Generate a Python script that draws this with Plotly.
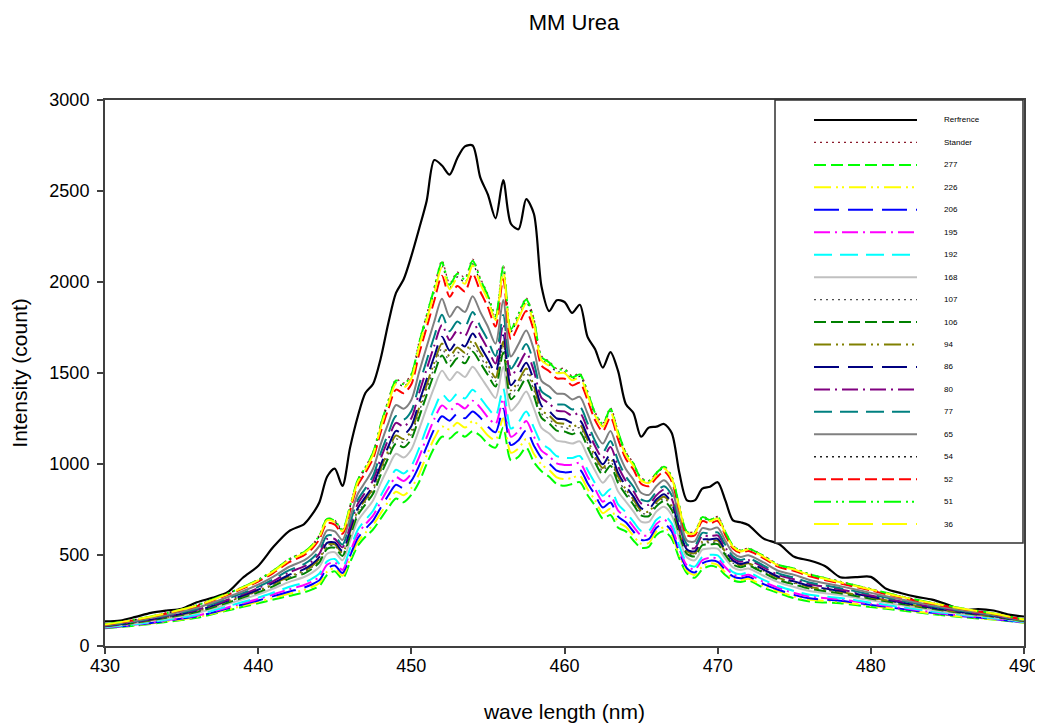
import plotly.graph_objects as go

# wavelength grid for the black reference curve
WAVE_REF = [430, 431, 432, 433, 434, 435, 436, 437, 438, 439, 440, 441, 442,
            443, 443.5, 444, 444.5, 445, 445.5, 446, 446.5, 447, 447.5,
            448, 448.5, 449, 449.5, 450, 450.5, 451, 451.5, 452, 452.5,
            453, 453.5, 454, 454.5, 455, 455.5, 456, 456.5, 457, 457.5,
            458, 458.5, 459, 459.5, 460, 460.5, 461, 461.5, 462, 462.5,
            463, 463.5, 464, 464.5, 465, 465.5, 466, 466.5, 467, 467.5,
            468, 468.5, 469, 469.5, 470, 470.5, 471, 471.5, 472,
            473, 474, 475, 476, 477, 478, 479, 480, 481, 482, 483, 484, 485, 486, 487, 488, 489, 490]
REFERENCE = [135, 140, 160, 182, 195, 205, 240, 265, 295, 375, 440, 545, 630,
             670, 720, 790, 930, 975, 880, 1090, 1260, 1390, 1440,
             1580, 1775, 1940, 2015, 2142, 2290, 2445, 2670, 2640, 2590,
             2680, 2745, 2750, 2575, 2480, 2350, 2560, 2320, 2290, 2455,
             2375, 1975, 1840, 1900, 1890, 1830, 1875, 1700, 1630, 1530,
             1615, 1510, 1330, 1280, 1150, 1200, 1205, 1220, 1170, 950,
             800, 800, 865, 875, 900, 800, 690, 680, 665,
             590, 560, 490, 470, 440, 378, 378, 380, 315, 290, 270, 255, 228, 198, 203, 195, 172, 162]

# wavelength grid for the sample curves
WAVE = [430, 432, 434, 436, 438, 440, 441, 442,
        443, 443.5, 444, 444.5, 445, 445.5, 446, 446.5, 447, 447.5,
        448, 448.5, 449, 449.5, 450, 450.5, 451, 451.5, 452, 452.5,
        453, 453.5, 454, 454.5, 455, 455.5, 456, 456.5, 457, 457.5,
        458, 458.5, 459, 459.5, 460, 460.5, 461, 461.5, 462, 462.5,
        463, 463.5, 464, 464.5, 465, 465.5, 466, 466.5, 467, 467.5,
        468, 468.5, 469, 469.5, 470, 470.5, 471, 471.5, 472,
        473, 474, 475, 476, 478, 480, 482, 484, 486, 488, 490]

STANDER = [119, 146, 182, 225, 289, 365, 416, 478, 519, 554, 611, 702, 691, 640, 772, 914, 985, 1066, 1220, 1353,
           1465, 1445, 1496, 1670, 1822, 1974, 2117, 1993, 2054, 2024, 2126, 2023, 1932, 1818, 2094, 1748, 1830, 1912, 1800, 1594,
           1564, 1524, 1525, 1483, 1498, 1402, 1285, 1225, 1308, 1180, 1067, 1006, 925, 909, 953, 989, 933, 771, 629, 630,
           711, 695, 711, 629, 552, 527, 537, 497, 446, 426, 396, 355, 314, 273, 237, 207, 179, 146]
S277 = [98, 112, 132, 155, 195, 235, 255, 275, 295, 310, 330, 390, 410, 370, 460, 550, 600, 640, 700, 760,
        810, 790, 830, 900, 1000, 1090, 1150, 1140, 1175, 1150, 1180, 1155, 1110, 1090, 1200, 1020, 1040, 1090, 1010, 960,
        930, 890, 880, 890, 900, 830, 770, 700, 720, 650, 630, 580, 540, 545, 610, 630, 590, 480, 400, 375,
        420, 440, 430, 390, 360, 352, 360, 320, 290, 262, 245, 235, 214, 195, 175, 158, 145, 128]
S226 = [99, 114, 135, 159, 200, 243, 264, 287, 308, 324, 346, 408, 426, 386, 478, 571, 622, 665, 730, 794,
        848, 828, 868, 944, 1047, 1141, 1206, 1189, 1226, 1200, 1235, 1205, 1157, 1132, 1252, 1062, 1086, 1137, 1056, 997,
        967, 927, 917, 924, 935, 863, 800, 730, 754, 681, 655, 605, 562, 566, 630, 651, 610, 497, 413, 390,
        437, 455, 446, 404, 371, 362, 370, 330, 299, 271, 254, 242, 220, 200, 179, 161, 147, 129]
S206 = [100, 116, 138, 163, 206, 250, 274, 298, 321, 338, 362, 426, 442, 401, 496, 592, 644, 689, 760, 828,
        886, 866, 907, 989, 1095, 1192, 1262, 1238, 1276, 1251, 1289, 1255, 1205, 1174, 1303, 1104, 1131, 1185, 1101, 1033,
        1003, 963, 954, 958, 969, 896, 829, 761, 788, 711, 680, 629, 584, 587, 650, 671, 630, 514, 426, 404,
        454, 469, 462, 418, 382, 372, 380, 340, 308, 281, 262, 249, 226, 204, 182, 164, 149, 130]
S195 = [102, 118, 141, 167, 212, 258, 284, 311, 335, 354, 380, 446, 460, 418, 516, 615, 669, 716, 793, 866,
        927, 907, 948, 1037, 1146, 1247, 1322, 1292, 1331, 1305, 1348, 1310, 1256, 1220, 1359, 1150, 1181, 1236, 1151, 1073,
        1043, 1003, 995, 996, 1006, 932, 862, 793, 825, 744, 708, 656, 609, 610, 671, 694, 651, 532, 441, 420,
        472, 485, 480, 433, 394, 383, 392, 352, 318, 291, 272, 256, 232, 209, 186, 167, 151, 131]
S192 = [103, 120, 144, 172, 218, 266, 294, 324, 349, 369, 398, 465, 478, 435, 535, 638, 693, 743, 825, 903,
        968, 948, 990, 1085, 1198, 1303, 1383, 1345, 1386, 1360, 1408, 1364, 1308, 1265, 1415, 1195, 1230, 1288, 1200, 1113,
        1083, 1043, 1035, 1033, 1044, 968, 894, 826, 861, 778, 735, 683, 633, 633, 693, 716, 673, 550, 455, 436,
        490, 501, 498, 448, 406, 394, 403, 363, 328, 302, 281, 264, 238, 214, 190, 170, 153, 132]
S168 = [106, 125, 151, 181, 230, 284, 316, 351, 379, 402, 435, 507, 515, 471, 577, 687, 744, 800, 895, 982,
        1056, 1036, 1080, 1189, 1308, 1422, 1513, 1460, 1505, 1478, 1535, 1481, 1418, 1363, 1535, 1293, 1336, 1398, 1306, 1198,
        1168, 1128, 1122, 1112, 1124, 1045, 963, 897, 940, 849, 794, 740, 684, 682, 739, 765, 719, 589, 486, 471,
        529, 536, 535, 480, 432, 418, 426, 386, 349, 324, 302, 280, 251, 224, 198, 176, 158, 135]
S107 = [108, 129, 157, 190, 242, 300, 336, 376, 407, 432, 470, 546, 550, 505, 616, 732, 792, 853, 960, 1056,
        1138, 1118, 1163, 1285, 1411, 1532, 1634, 1566, 1614, 1587, 1653, 1589, 1521, 1454, 1647, 1384, 1435, 1501, 1405, 1277,
        1247, 1207, 1202, 1186, 1199, 1116, 1027, 963, 1014, 915, 848, 793, 732, 727, 782, 809, 762, 626, 514, 502,
        566, 567, 570, 510, 456, 439, 448, 408, 368, 344, 320, 295, 264, 234, 206, 182, 162, 137]
S106 = [108, 128, 155, 187, 238, 295, 329, 369, 398, 423, 460, 534, 540, 495, 604, 718, 778, 837, 940, 1034,
        1112, 1092, 1137, 1255, 1379, 1498, 1596, 1534, 1581, 1553, 1617, 1556, 1489, 1426, 1613, 1356, 1405, 1469, 1375, 1253,
        1223, 1183, 1178, 1164, 1176, 1094, 1008, 942, 991, 895, 832, 777, 718, 713, 768, 796, 748, 614, 506, 493,
        554, 558, 560, 500, 449, 433, 442, 402, 362, 338, 315, 290, 260, 231, 204, 181, 161, 136]
S94 = [109, 130, 158, 192, 245, 304, 340, 382, 413, 439, 479, 555, 559, 513, 625, 743, 804, 866, 975, 1074,
       1157, 1137, 1182, 1307, 1435, 1558, 1662, 1591, 1640, 1612, 1681, 1614, 1545, 1475, 1673, 1405, 1458, 1525, 1428, 1296,
       1266, 1226, 1221, 1204, 1216, 1133, 1042, 978, 1031, 931, 861, 806, 744, 738, 792, 820, 772, 634, 521, 510,
       574, 575, 579, 517, 462, 444, 454, 414, 373, 349, 325, 298, 267, 236, 208, 184, 163, 137]
S86 = [110, 132, 160, 195, 248, 309, 347, 390, 422, 449, 489, 567, 569, 523, 637, 757, 818, 882, 995, 1096,
       1182, 1162, 1208, 1337, 1466, 1592, 1699, 1624, 1674, 1646, 1717, 1648, 1576, 1503, 1707, 1433, 1488, 1556, 1458, 1320,
       1290, 1250, 1246, 1226, 1239, 1155, 1062, 998, 1053, 951, 878, 822, 758, 752, 805, 834, 785, 645, 530, 520,
       585, 585, 589, 526, 469, 451, 460, 420, 379, 355, 331, 303, 271, 239, 210, 186, 165, 138]
S80 = [111, 134, 164, 199, 254, 318, 357, 404, 437, 465, 508, 588, 588, 542, 658, 781, 844, 911, 1030, 1136,
       1226, 1206, 1252, 1388, 1521, 1651, 1764, 1681, 1733, 1704, 1781, 1706, 1631, 1552, 1768, 1482, 1542, 1611, 1512, 1363,
       1333, 1293, 1289, 1266, 1280, 1193, 1097, 1033, 1093, 987, 907, 851, 784, 776, 828, 858, 808, 665, 545, 537,
       605, 602, 608, 542, 482, 463, 472, 432, 389, 366, 341, 311, 277, 245, 215, 189, 167, 139]
S77 = [112, 136, 167, 203, 260, 325, 367, 415, 450, 479, 524, 606, 604, 557, 676, 802, 866, 935, 1060, 1170,
       1264, 1244, 1291, 1433, 1569, 1702, 1820, 1730, 1783, 1755, 1835, 1756, 1679, 1594, 1819, 1524, 1587, 1659, 1557, 1399,
       1369, 1329, 1326, 1300, 1314, 1226, 1126, 1064, 1127, 1017, 932, 875, 806, 797, 848, 878, 828, 682, 558, 551,
       622, 616, 624, 556, 493, 473, 482, 442, 398, 376, 349, 318, 283, 249, 218, 192, 169, 140]
S65 = [114, 139, 171, 210, 268, 337, 381, 434, 470, 502, 550, 635, 630, 582, 705, 835, 902, 974, 1108, 1225,
       1324, 1304, 1352, 1503, 1644, 1783, 1908, 1808, 1864, 1835, 1922, 1836, 1754, 1661, 1901, 1591, 1659, 1734, 1629, 1457,
       1427, 1387, 1385, 1355, 1369, 1278, 1173, 1112, 1181, 1066, 972, 914, 842, 830, 879, 911, 859, 708, 579, 575,
       648, 640, 650, 578, 511, 489, 499, 459, 412, 391, 363, 329, 292, 256, 224, 196, 172, 142]
S54 = [118, 145, 180, 223, 286, 361, 412, 472, 512, 547, 603, 693, 683, 633, 763, 904, 974, 1054, 1205, 1336,
       1446, 1426, 1476, 1647, 1798, 1949, 2089, 1968, 2028, 1998, 2099, 1998, 1908, 1797, 2069, 1727, 1808, 1888, 1778, 1576,
       1546, 1506, 1506, 1466, 1481, 1386, 1270, 1210, 1291, 1165, 1054, 994, 914, 899, 943, 978, 923, 763, 622, 622,
       703, 687, 703, 622, 547, 522, 532, 492, 442, 422, 391, 351, 311, 271, 236, 205, 178, 145]
S52 = [117, 143, 178, 219, 281, 354, 402, 460, 499, 533, 587, 675, 667, 617, 745, 883, 952, 1030, 1175, 1302,
       1409, 1389, 1438, 1603, 1750, 1898, 2034, 1919, 1978, 1948, 2045, 1948, 1861, 1755, 2017, 1685, 1762, 1840, 1732, 1540,
       1510, 1470, 1469, 1432, 1446, 1353, 1240, 1180, 1257, 1135, 1029, 970, 892, 878, 924, 958, 904, 746, 609, 608,
       686, 673, 687, 609, 536, 512, 522, 482, 433, 412, 383, 344, 305, 266, 232, 203, 176, 144]
S51 = [119, 146, 181, 224, 288, 364, 415, 476, 516, 552, 608, 699, 688, 638, 769, 911, 981, 1062, 1215, 1347,
       1459, 1439, 1489, 1662, 1814, 1966, 2108, 1985, 2045, 2015, 2117, 2015, 1924, 1811, 2086, 1741, 1823, 1904, 1793, 1588,
       1558, 1518, 1519, 1477, 1492, 1397, 1280, 1220, 1302, 1175, 1063, 1002, 921, 906, 950, 985, 930, 768, 627, 627,
       708, 692, 708, 627, 551, 525, 535, 495, 445, 425, 394, 353, 313, 272, 237, 206, 179, 146]
S36 = [118, 145, 180, 222, 285, 360, 410, 470, 510, 545, 600, 690, 680, 630, 760, 900, 970, 1050, 1200, 1330,
       1440, 1420, 1470, 1640, 1790, 1940, 2080, 1960, 2020, 1990, 2090, 1990, 1900, 1790, 2060, 1720, 1800, 1880, 1770, 1570,
       1540, 1500, 1500, 1460, 1475, 1380, 1265, 1205, 1285, 1160, 1050, 990, 910, 895, 940, 975, 920, 760, 620, 620,
       700, 685, 700, 620, 545, 520, 530, 490, 440, 420, 390, 350, 310, 270, 235, 205, 178, 145]

FONT = "Liberation Sans, Arial, sans-serif"
DOT = "2px,4px"
DASH = "12px,5px"
DASH2 = "18px,8px"
LONG = "25px,9px"
DASHDOT = "16px,5px,2px,5px"
DASHDOTDOT = "17px,5px,2px,4px,2px,5px"

# name, x, y, colour, dash, width
series = [
    ("Rerfrence", WAVE_REF, REFERENCE, "black", "solid", 2.2),
    ("Stander", WAVE, STANDER, "#8b1a2b", DOT, 1.3),
    ("277", WAVE, S277, "#00ff00", DASH, 2),
    ("226", WAVE, S226, "#ffff00", DASHDOTDOT, 2),
    ("206", WAVE, S206, "#0000ff", LONG, 2),
    ("195", WAVE, S195, "#ff00ff", DASHDOT, 2),
    ("192", WAVE, S192, "#00ffff", DASH2, 2),
    ("168", WAVE, S168, "#c0c0c0", "solid", 2),
    ("107", WAVE, S107, "#505050", DOT, 1.3),
    ("106", WAVE, S106, "#008000", DASH, 2),
    ("94", WAVE, S94, "#808000", DASHDOTDOT, 2),
    ("86", WAVE, S86, "#000080", LONG, 2),
    ("80", WAVE, S80, "#800080", DASHDOT, 2),
    ("77", WAVE, S77, "#008080", DASH2, 2),
    ("65", WAVE, S65, "#808080", "solid", 2),
    ("54", WAVE, S54, "#202020", DOT, 1.3),
    ("52", WAVE, S52, "#ff0000", DASH, 2),
    ("51", WAVE, S51, "#00ff00", DASHDOTDOT, 2),
    ("36", WAVE, S36, "#ffff00", LONG, 2),
]

fig = go.Figure()
for name, xs, ys, color, dash, width in series:
    assert len(xs) == len(ys), name
    fig.add_trace(go.Scatter(x=xs, y=ys, name=name, mode="lines",
                             line=dict(color=color, dash=dash, width=width,
                                       shape="spline", smoothing=0.8)))

# the page body adds an 8px offset, so the figure is 8px smaller
OFF = 8
W, H, L, T = 919, 546, 105, 100   # plot box in the final picture
FIG_W, FIG_H = 1043 - OFF, 727 - OFF


def px_x(p):
    return (p - L) / W


def px_y(p):
    return (T + H - p) / H


# hand-made legend box like the original (long line samples)
shapes = [dict(type="rect", xref="paper", yref="paper",
               x0=px_x(775), x1=px_x(1023), y0=px_y(543), y1=px_y(100),
               fillcolor="white", line=dict(color="#303030", width=1.5))]
annotations = []
for i, (name, xs, ys, color, dash, width) in enumerate(series):
    yy = px_y(120 + 22.45 * i)
    shapes.append(dict(type="line", xref="paper", yref="paper",
                       x0=px_x(814), x1=px_x(917), y0=yy, y1=yy,
                       line=dict(color=color, dash=dash, width=width)))
    annotations.append(dict(xref="paper", yref="paper", x=px_x(942), y=yy,
                            text=name, showarrow=False, xanchor="left", yanchor="middle",
                            font=dict(family=FONT, size=8, color="black")))

fig.update_layout(
    width=FIG_W, height=FIG_H,
    margin=dict(l=L - OFF, r=FIG_W + OFF - (L + W), t=T - OFF, b=FIG_H + OFF - (T + H)),
    paper_bgcolor="white", plot_bgcolor="white",
    font=dict(family=FONT, color="black"),
    showlegend=False,
    title=dict(text="MM Urea", x=(574 - OFF) / FIG_W, xanchor="center",
               y=1 - (22 - OFF) / FIG_H, yanchor="middle",
               font=dict(family=FONT, size=22, color="black")),
    shapes=shapes,
    annotations=annotations,
)
fig.update_xaxes(range=[430, 490], tickvals=[430, 440, 450, 460, 470, 480, 490],
                 ticks="outside", ticklen=6, tickwidth=1.5, tickcolor="#404040",
                 showline=True, linecolor="#404040", linewidth=2, mirror=True,
                 showgrid=False, zeroline=False, tickfont=dict(size=18),
                 ticklabelstandoff=-4, automargin=False,
                 title=dict(text="wave length (nm)", font=dict(size=21), standoff=30))
fig.update_yaxes(range=[0, 3000], tickvals=[0, 500, 1000, 1500, 2000, 2500, 3000],
                 ticks="outside", ticklen=6, tickwidth=1.5, tickcolor="#404040",
                 showline=True, linecolor="#404040", linewidth=2, mirror=True,
                 showgrid=False, zeroline=False, tickfont=dict(size=18),
                 ticklabelstandoff=4, automargin=False,
                 title=dict(text="Intensity (count)", font=dict(size=21), standoff=18))

fig.write_html("out.html")
